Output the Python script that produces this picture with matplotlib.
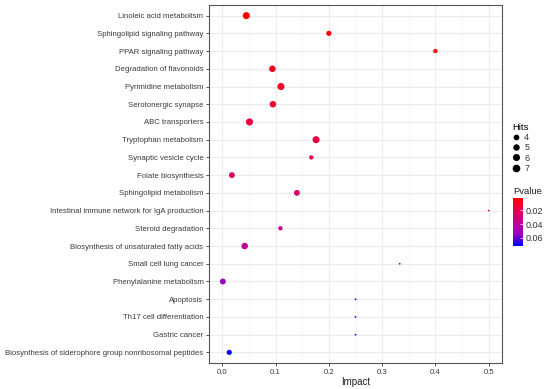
import numpy as np
import matplotlib
matplotlib.use("Agg")
import matplotlib.pyplot as plt
from matplotlib.colors import LinearSegmentedColormap, Normalize
from matplotlib.lines import Line2D

plt.rcParams['font.family'] = ['Liberation Sans', 'DejaVu Sans']

pathways = [
    "Linoleic acid metabolism",
    "Sphingolipid signaling pathway",
    "PPAR signaling pathway",
    "Degradation of flavonoids",
    "Pyrimidine metabolism",
    "Serotonergic synapse",
    "ABC transporters",
    "Tryptophan metabolism",
    "Synaptic vesicle cycle",
    "Folate biosynthesis",
    "Sphingolipid metabolism",
    "Intestinal immune network for IgA production",
    "Steroid degradation",
    "Biosynthesis of unsaturated fatty acids",
    "Small cell lung cancer",
    "Phenylalanine metabolism",
    "Apoptosis",
    "Th17 cell differentiation",
    "Gastric cancer",
    "Biosynthesis of siderophore group nonribosomal peptides",
]
impact = [0.045, 0.200, 0.400, 0.094, 0.110, 0.095, 0.051, 0.176, 0.167, 0.018,
          0.140, 0.500, 0.109, 0.042, 0.333, 0.001, 0.250, 0.250, 0.250, 0.013]
hits = [7, 4, 3, 6, 7, 6, 7, 7, 3, 5,
        5, 1, 3, 6, 1, 5, 1, 1, 1, 4]
pvalue = [0.002, 0.004, 0.007, 0.009, 0.011, 0.013, 0.016, 0.018, 0.021, 0.024,
          0.026, 0.030, 0.037, 0.040, 0.045, 0.054, 0.062, 0.064, 0.066, 0.072]
hit_breaks = [4, 5, 6, 7]
p_breaks = [0.02, 0.04, 0.06]

W, H = 550, 389
fig = plt.figure(figsize=(W / 100, H / 100), dpi=100)

def px(x0, y0, x1, y1):
    return [x0 / W, 1 - y1 / H, (x1 - x0) / W, (y1 - y0) / H]

ax = fig.add_axes(px(209, 5, 502, 363))

# ggplot-like red -> blue gradient (Lab interpolated stops)
cmap = LinearSegmentedColormap.from_list(
    "rb", ["#FF0000", "#E8004F", "#C90089", "#9A00C3", "#0000FF"])
norm = Normalize(vmin=min(pvalue), vmax=max(pvalue))

def size_of(h):
    return 1.7 + (np.asarray(h) - 1) / 6 * (26 - 1.7)

ypos = np.arange(len(pathways))[::-1]
ax.scatter(impact, ypos, s=size_of(hits), c=pvalue, cmap=cmap, norm=norm,
           linewidths=0, zorder=3)

ax.set_xlim(-0.025, 0.525)
ax.set_ylim(-0.6, len(pathways) - 0.4)
ax.set_yticks(ypos)
ax.set_yticklabels(pathways)
ax.set_xticks([0.0, 0.1, 0.2, 0.3, 0.4, 0.5])
ax.set_xticklabels(["0.0", "0.1", "0.2", "0.3", "0.4", "0.5"])
ax.set_xticks(np.arange(0.05, 0.5, 0.1), minor=True)
ax.grid(True, which="major", color="#EBEBEB", lw=0.8, zorder=0)
ax.grid(True, which="minor", axis="x", color="#F3F3F3", lw=0.5, zorder=0)
ax.set_axisbelow(True)
for sp in ax.spines.values():
    sp.set_color("#555555")
    sp.set_linewidth(0.8)
ax.tick_params(axis="both", which="major", length=2.5, width=0.6, color="#333333",
               labelsize=5.6, labelcolor="#3A3A3A", pad=1.5)
ax.tick_params(axis="x", which="minor", length=0)
ax.set_xlabel("Impact", fontsize=7, color="#222222", labelpad=1)

# size legend
handles = [Line2D([], [], ls="", marker="o", color="black",
                  markersize=np.sqrt(size_of(h)) + 0.4, markeredgewidth=0)
           for h in hit_breaks]
leg = fig.legend(handles, [str(h) for h in hit_breaks], title="Hits",
                 loc="upper left", bbox_to_anchor=(508 / W, 1 - 118 / H),
                 frameon=False, fontsize=6.5, title_fontsize=6.8,
                 handlelength=0.8, handletextpad=0.5, labelspacing=0.15,
                 borderpad=0, alignment="left")
for t in leg.get_texts():
    t.set_color("#333333")

# colour bar
cax = fig.add_axes(px(513.3, 198.3, 522.7, 245.7))
cb = fig.colorbar(plt.cm.ScalarMappable(norm=norm, cmap=cmap), cax=cax)
cb.outline.set_visible(False)
cb.set_ticks(p_breaks)
cb.set_ticklabels(["0.02", "0.04", "0.06"])
cax.tick_params(length=2, width=0.5, color="white", direction="in",
                labelsize=6.5, labelcolor="#333333", pad=2)
cax.invert_yaxis()
cax.set_title("Pvalue", fontsize=6.8, loc="left", pad=3, color="#222222")

fig.savefig("out.png", dpi=100)
